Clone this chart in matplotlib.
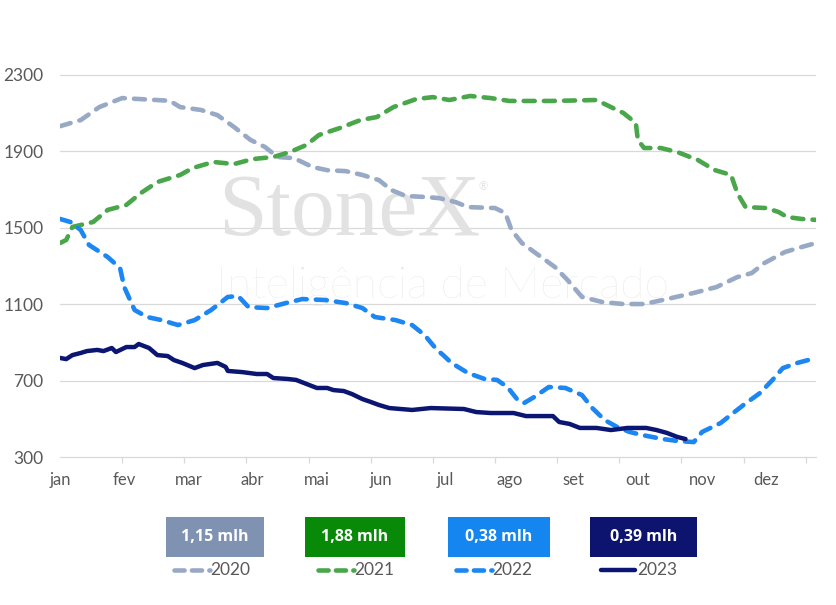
import matplotlib
matplotlib.use("Agg")
import matplotlib.pyplot as plt
from matplotlib.patches import Rectangle
from matplotlib.lines import Line2D

plt.rcParams['font.family'] = ['Lato', 'DejaVu Sans']

# dias do ano (0 = 1 jan) e valores
dias_2020 = [0, 10, 19, 30, 53, 58, 68, 76, 84, 92, 99, 105, 113, 122, 129, 138, 146, 154,
             160, 167, 176, 183, 191, 197, 210, 215, 218, 223, 231, 239, 245, 252, 262, 272,
             282, 291, 306, 317, 327, 334, 340, 350, 358, 365]
val_2020 = [2030, 2062, 2130, 2177, 2163, 2130, 2115, 2088, 2026, 1958, 1921, 1869, 1863, 1816,
            1800, 1795, 1775, 1748, 1696, 1665, 1660, 1654, 1633, 1607, 1602, 1576, 1487, 1419,
            1356, 1293, 1226, 1137, 1110, 1100, 1100, 1121, 1158, 1189, 1241, 1262, 1314, 1372,
            1398, 1419]

dias_2021 = [0, 3, 6, 16, 23, 32, 39, 47, 58, 64, 74, 84, 93, 103, 111, 119, 125, 135, 145,
             153, 161, 172, 180, 188, 198, 208, 217, 237, 259, 266, 272, 278, 279, 282, 290,
             298, 308, 316, 324, 327, 331, 341, 347, 351, 358, 365]
val_2021 = [1419, 1435, 1503, 1529, 1592, 1618, 1680, 1738, 1775, 1811, 1843, 1832, 1858, 1869,
            1895, 1932, 1984, 2020, 2062, 2078, 2130, 2172, 2182, 2167, 2188, 2177, 2162, 2162,
            2167, 2130, 2099, 2047, 1958, 1916, 1916, 1895, 1853, 1801, 1775, 1680, 1607, 1602,
            1581, 1555, 1545, 1540]

dias_2022 = [0, 5, 10, 14, 23, 29, 31, 36, 42, 49, 57, 65, 73, 81, 86, 91, 100, 109, 117, 128,
             138, 146, 152, 162, 170, 176, 182, 185, 189, 197, 205, 211, 216, 221, 224, 229,
             236, 244, 252, 257, 263, 269, 275, 281, 291, 298, 306, 310, 319, 325, 330, 338,
             344, 349, 356, 365]
val_2022 = [1545, 1529, 1487, 1409, 1346, 1288, 1189, 1069, 1032, 1016, 990, 1016, 1069, 1137,
            1142, 1084, 1079, 1105, 1126, 1121, 1105, 1079, 1032, 1016, 990, 938, 860, 833, 792,
            739, 708, 703, 666, 598, 582, 614, 666, 661, 624, 556, 493, 457, 431, 415, 394, 384,
            378, 431, 478, 530, 572, 635, 703, 765, 792, 818]

dias_2023 = [0, 3, 6, 10, 13, 18, 21, 25, 27, 32, 36, 38, 43, 47, 52, 55, 59, 65, 69, 76, 80,
             81, 88, 95, 100, 103, 110, 114, 119, 124, 129, 132, 137, 141, 146, 150, 154, 159,
             170, 179, 195, 201, 208, 219, 225, 238, 241, 246, 251, 259, 266, 274, 283, 288,
             293, 298, 302]
val_2023 = [818, 812, 833, 844, 854, 860, 854, 870, 849, 875, 875, 891, 870, 833, 828, 807, 792,
            765, 781, 792, 771, 750, 744, 734, 734, 713, 708, 703, 682, 661, 661, 650, 645, 629,
            603, 588, 572, 556, 546, 556, 551, 535, 530, 530, 514, 514, 483, 473, 452, 452, 441,
            452, 452, 441, 426, 405, 394]

meses = ['jan', 'fev', 'mar', 'abr', 'mai', 'jun', 'jul', 'ago', 'set', 'out', 'nov', 'dez']
yticks = [300, 700, 1100, 1500, 1900, 2300]

anos = ['2020', '2021', '2022', '2023']
caixas = ['1,15 mlh', '1,88 mlh', '0,38 mlh', '0,39 mlh']
cor_linha = ['#98A9C6', '#4AA64A', '#1C86F2', '#0B1572']
cor_caixa = ['#7F92B2', '#088A08', '#1585F0', '#0D1470']

W, H = 836, 605
fig = plt.figure(figsize=(W / 100, H / 100), dpi=100)
ax = fig.add_axes([60 / W, 1 - 457 / H, 756 / W, 457 / H])

grid_c = '#D9D9D9'
for v in yticks[1:]:
    ax.axhline(v, color=grid_c, lw=0.9, zorder=0)

# marca d'água
ax.text(218 / W, 1 - 235 / H, 'StoneX', transform=fig.transFigure, family='Liberation Serif',
        fontsize=63, color='#E2E2E2', va='baseline', ha='left', zorder=0.5)
ax.text(479 / W, 1 - 190 / H, '®', transform=fig.transFigure, fontsize=8,
        color='#E2E2E2', va='baseline', ha='left', zorder=0.5)
ax.text(216 / W, 1 - 298 / H, 'Inteligência de Mercado', transform=fig.transFigure,
        fontsize=32, fontweight='light', color='#E6E6E6', va='baseline', ha='left', zorder=0.5)

dash = (2.4, 2.0)
series = [(dias_2020, val_2020), (dias_2021, val_2021), (dias_2022, val_2022), (dias_2023, val_2023)]
for i, (d, v) in enumerate(series):
    if i < 3:
        ax.plot(d, v, color=cor_linha[i], lw=3.3, dashes=dash, dash_capstyle='round',
                solid_joinstyle='round', zorder=2 + i)
    else:
        ax.plot(d, v, color=cor_linha[i], lw=3.2, solid_capstyle='round', zorder=2 + i)

ax.set_xlim(0, 365)
ax.set_ylim(300, 2690)
for s in ['top', 'right', 'left']:
    ax.spines[s].set_visible(False)
ax.spines['bottom'].set_color(grid_c)
ax.spines['bottom'].set_linewidth(0.9)

ax.set_yticks(yticks)
ax.set_yticklabels([str(t) for t in yticks])
ax.tick_params(axis='y', length=0, pad=12, labelsize=12.5, labelcolor='#595959')

ax.set_xticks([31 * i for i in range(12)])
ax.set_xticklabels(meses)
ax.set_xticks(list(range(0, 361, 30)), minor=True)
ax.tick_params(axis='x', which='major', length=0, pad=11, labelsize=12, labelcolor='#595959')
ax.tick_params(axis='x', which='minor', length=4, width=0.9, color=grid_c, direction='out')

# legenda com caixas
box_x = [(166, 264), (305, 405), (448, 550), (590, 697)]
leg_x = [174, 318, 456, 601]
for i in range(4):
    x0, x1 = box_x[i]
    fig.patches.append(Rectangle((x0 / W, 1 - 557 / H), (x1 - x0) / W, 40 / H,
                                 transform=fig.transFigure, facecolor=cor_caixa[i],
                                 edgecolor='none'))
    fig.text((x0 + x1) / 2 / W, 1 - 537 / H, caixas[i], color='white', fontsize=11.5,
             fontweight='bold', family='Open Sans', ha='center', va='center')
    lx = leg_x[i]
    if i < 3:
        ln = Line2D([lx / W, (lx + 36) / W], [1 - 570 / H, 1 - 570 / H], transform=fig.transFigure,
                    color=cor_linha[i], lw=3.3, dashes=(2.2, 1.6), dash_capstyle='round')
    else:
        ln = Line2D([lx / W, (lx + 34) / W], [1 - 570 / H, 1 - 570 / H], transform=fig.transFigure,
                    color=cor_linha[i], lw=3.2, solid_capstyle='round')
    fig.add_artist(ln)
    fig.text((lx + 36) / W, 1 - 570 / H, anos[i], color='#595959', fontsize=12.5,
             ha='left', va='center')

fig.savefig('out.png', dpi=100)
